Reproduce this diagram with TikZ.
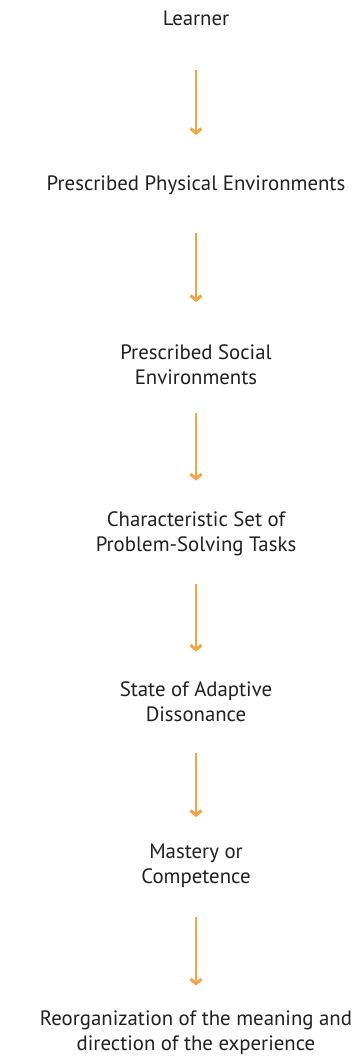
\documentclass[tikz,border=0pt]{standalone}
\usepackage{fontspec}
\setmainfont{PT Sans}
\usetikzlibrary{arrows.meta}

\definecolor{stageink}{HTML}{231F20}
\definecolor{flowline}{HTML}{F2A445}

\begin{document}
\begin{tikzpicture}[x=1pt,y=1pt,
        stage/.style={align=center,text=stageink,inner sep=0pt,
            font=\fontsize{20.8}{25}\selectfont},
        flow/.style={draw=flowline,line width=1.8pt,
            -{Straight Barb[length=4.5pt,width=11pt,line width=3pt]}}]
    \useasboundingbox (0,0) rectangle (356,-1059);
    % the stages, top to bottom
    \node[stage] (learner) at (196,-18) {Learner};
    \node[stage] (physical) at (196,-185) {Prescribed Physical Environments};
    \node[stage] (social) at (196,-365) {Prescribed Social\\Environments};
    \node[stage] (tasks) at (196,-533.5) {Characteristic Set of\\Problem-Solving Tasks};
    \node[stage] (dissonance) at (196,-701.5) {State of Adaptive\\Dissonance};
    \node[stage] (mastery) at (196,-866) {Mastery or\\Competence};
    \node[stage] (reorg) at (196,-1032.5) {Reorganization of the meaning and\\direction of the experience};
    % arrows between stages
    \foreach \a/\b/\s/\e in {learner/physical/52/50, physical/social/48/63,
            social/tasks/48/53, tasks/dissonance/50/50,
            dissonance/mastery/51/49, mastery/reorg/51/47}
        \draw[flow,shorten <=\s pt,shorten >=\e pt] (\a.center) -- (\b.center);
\end{tikzpicture}
\end{document}
